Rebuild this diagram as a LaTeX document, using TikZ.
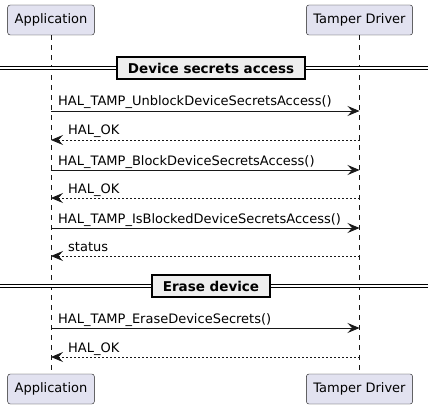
\documentclass[tikz,border=0pt]{standalone}
\usepackage{fontspec}
\setmainfont{DejaVu Sans}
\usepackage{tikz}
\usetikzlibrary{arrows.meta,positioning}

\definecolor{partfill}{HTML}{E2E2F0}
\definecolor{lineclr}{HTML}{181818}
\definecolor{groupfill}{HTML}{EEEEEE}

\begin{document}
\begin{tikzpicture}[
    x=1pt, y=-1pt,
    font=\fontsize{13}{15}\selectfont,
    participant/.style={draw=lineclr, fill=partfill, rounded corners=2.5pt, minimum height=30pt, inner xsep=7pt},
    lifeline/.style={draw=lineclr, dash pattern=on 5pt off 5pt, line width=0.5pt},
    call/.style={draw=lineclr, line width=0.8pt, -{Stealth[length=12pt, width=10pt, inset=4.5pt]}},
    reply/.style={call, dash pattern=on 2pt off 2pt},
    divider/.style={draw=black, double=white, double distance=2pt, line width=1pt},
    grouplabel/.style={draw=black, line width=1.5pt, fill=groupfill, font=\fontsize{13.5}{15}\selectfont\bfseries, minimum height=22pt, inner xsep=11pt},
    msglabel/.style={inner sep=0pt, anchor=base west}
  ]
  \useasboundingbox (0,0) rectangle (428,409);

  % Participants
  \node[participant] (appT) at (51,20) {Application};
  \node[participant] (drvT) at (359.5,20) {Tamper Driver};
  \node[participant] (appB) at (51,389) {Application};
  \node[participant] (drvB) at (359.5,389) {Tamper Driver};

  % Lifelines
  \draw[lifeline] (appT) -- (appB);
  \draw[lifeline] (drvT) -- (drvB);

  % Dividers
  \coordinate (secL) at (0,68);
  \coordinate (secR) at (428,68);
  \draw[divider] (secL) -- (secR);
  \node[grouplabel] (sec) at (211,68) {Device secrets access};

  \coordinate (ersL) at (0,286);
  \coordinate (ersR) at (428,286);
  \draw[divider] (ersL) -- (ersR);
  \node[grouplabel] (ers) at (211,286) {Erase device};

  % Message ends
  \coordinate (a1) at (51,111);  \coordinate (d1) at (359.5,111);
  \coordinate (a2) at (51,140);  \coordinate (d2) at (359.5,140);
  \coordinate (a3) at (51,170);  \coordinate (d3) at (359.5,170);
  \coordinate (a4) at (51,198);  \coordinate (d4) at (359.5,198);
  \coordinate (a5) at (51,228);  \coordinate (d5) at (359.5,228);
  \coordinate (a6) at (51,256);  \coordinate (d6) at (359.5,256);
  \coordinate (a7) at (51,328);  \coordinate (d7) at (359.5,328);
  \coordinate (a8) at (51,357);  \coordinate (d8) at (359.5,357);

  % Device secrets access
  \draw[call] (a1) -- (d1);
  \node[msglabel] at ([xshift=7pt, yshift=5pt]a1) {HAL\_TAMP\_UnblockDeviceSecretsAccess()};
  \draw[reply] (d2) -- (a2);
  \node[msglabel] at ([xshift=17pt, yshift=5pt]a2) {HAL\_OK};
  \draw[call] (a3) -- (d3);
  \node[msglabel] at ([xshift=7pt, yshift=5pt]a3) {HAL\_TAMP\_BlockDeviceSecretsAccess()};
  \draw[reply] (d4) -- (a4);
  \node[msglabel] at ([xshift=17pt, yshift=5pt]a4) {HAL\_OK};
  \draw[call] (a5) -- (d5);
  \node[msglabel] at ([xshift=7pt, yshift=5pt]a5) {HAL\_TAMP\_IsBlockedDeviceSecretsAccess()};
  \draw[reply] (d6) -- (a6);
  \node[msglabel] at ([xshift=17pt, yshift=5pt]a6) {status};

  % Erase device
  \draw[call] (a7) -- (d7);
  \node[msglabel] at ([xshift=7pt, yshift=5pt]a7) {HAL\_TAMP\_EraseDeviceSecrets()};
  \draw[reply] (d8) -- (a8);
  \node[msglabel] at ([xshift=17pt, yshift=5pt]a8) {HAL\_OK};

\end{tikzpicture}
\end{document}
